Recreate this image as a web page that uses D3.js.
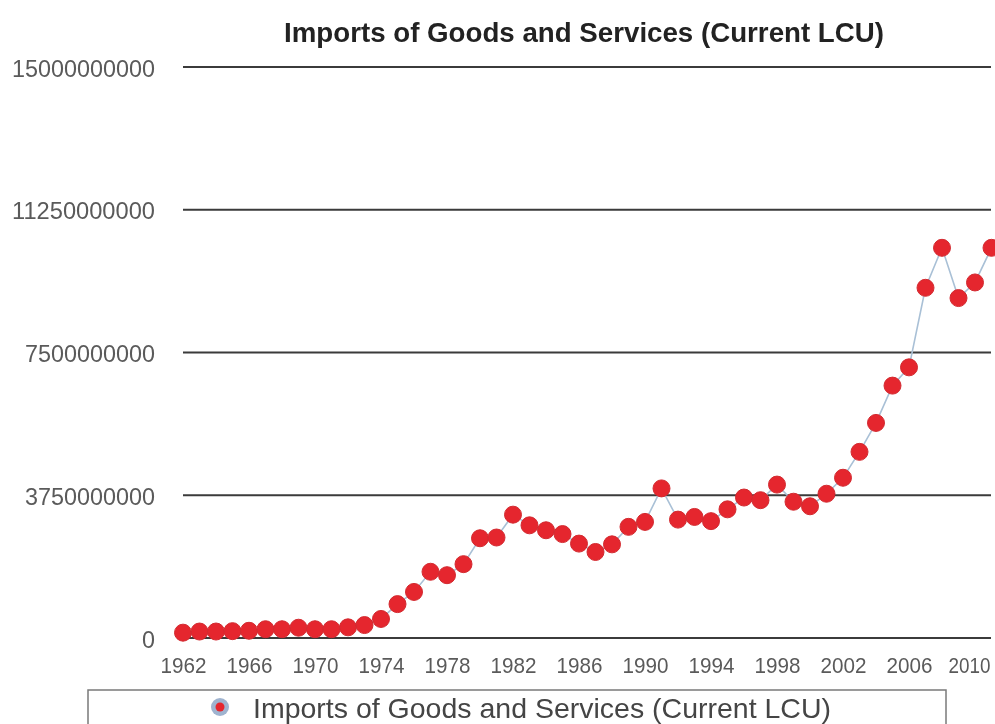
<!DOCTYPE html>
<html>
<head>
<meta charset="utf-8">
<script src="https://cdn.jsdelivr.net/npm/d3@7"></script>
<style>
  html, body { margin: 0; padding: 0; background: #fff; }
  svg { display: block; }
  text { font-family: "Liberation Sans", Arial, Helvetica, sans-serif; }
</style>
</head>
<body>
<svg id="chart" width="995" height="724"></svg>
<script>
// Imports of goods and services, current local currency units, by year
const years = d3.range(1962, 2012);
const imports = [
  0.14e9, 0.17e9, 0.17e9, 0.18e9, 0.19e9, 0.23e9, 0.23e9, 0.27e9, 0.23e9, 0.23e9,
  0.28e9, 0.34e9, 0.50e9, 0.89e9, 1.21e9, 1.74e9, 1.65e9, 1.94e9, 2.62e9, 2.64e9,
  3.24e9, 2.96e9, 2.83e9, 2.73e9, 2.48e9, 2.26e9, 2.46e9, 2.92e9, 3.05e9, 3.93e9,
  3.11e9, 3.18e9, 3.07e9, 3.38e9, 3.69e9, 3.62e9, 4.03e9, 3.58e9, 3.46e9, 3.79e9,
  4.21e9, 4.89e9, 5.65e9, 6.63e9, 7.11e9, 9.20e9, 10.25e9, 8.93e9, 9.34e9, 10.25e9
];
const yTicks = [0, 3750000000, 7500000000, 11250000000, 15000000000];
const xTicks = d3.range(1962, 2012, 4);
const seriesName = "Imports of Goods and Services (Current LCU)";

const data = years.map((y, i) => ({ year: y, value: imports[i] }));

const svg = d3.select("#chart");

// soft rendering of the whole chart
const defs = svg.append("defs");
defs.append("filter").attr("id", "soft")
  .attr("x", "-5%").attr("y", "-5%").attr("width", "110%").attr("height", "110%")
  .append("feGaussianBlur").attr("stdDeviation", 0.55);

const root = svg.append("g").attr("filter", "url(#soft)");

const x = d3.scaleLinear().domain([1962, 2011]).range([183, 991.5]);
const y = d3.scaleLinear().domain([0, 15000000000]).range([638, 67]);

// Title
root.append("text")
  .attr("x", 584).attr("y", 42)
  .attr("text-anchor", "middle")
  .attr("font-size", 27).attr("font-weight", "bold")
  .attr("fill", "#222")
  .attr("textLength", 600).attr("lengthAdjust", "spacingAndGlyphs")
  .text(seriesName);

// Horizontal gridlines
root.append("g").selectAll("line")
  .data(yTicks)
  .join("line")
  .attr("x1", 183).attr("x2", 991)
  .attr("y1", d => y(d)).attr("y2", d => y(d))
  .attr("stroke", "#3a3a3a").attr("stroke-width", 2);

// Y axis labels
const yAxis = d3.axisLeft(y).tickValues(yTicks).tickSize(0).tickPadding(0)
  .tickFormat(d3.format("d"));
const gy = root.append("g").attr("transform", "translate(155,0)").call(yAxis);
gy.select(".domain").remove();
gy.selectAll("text")
  .attr("font-family", "Liberation Sans, Arial, sans-serif")
  .attr("font-size", 24).attr("fill", "#5a5a5a")
  .attr("dy", "0.38em")
  .each(function(d) {
    const n = String(d).length;
    d3.select(this).attr("textLength", n * 13).attr("lengthAdjust", "spacingAndGlyphs");
  });

// X axis labels
const xAxis = d3.axisBottom(x).tickValues(xTicks).tickSize(0).tickPadding(0)
  .tickFormat(d3.format("d"));
const gx = root.append("g").attr("transform", "translate(0,656)").call(xAxis);
gx.select(".domain").remove();
gx.selectAll("text")
  .attr("font-family", "Liberation Sans, Arial, sans-serif")
  .attr("font-size", 22).attr("fill", "#5a5a5a")
  .attr("dy", "0.78em")
  .attr("textLength", 46).attr("lengthAdjust", "spacingAndGlyphs");
// keep the right-most year inside the frame
gx.selectAll(".tick").filter(d => d === 2010).select("text")
  .attr("text-anchor", "end").attr("x", 990 - x(2010)).attr("textLength", 42);

// Connecting line
const line = d3.line().x(d => x(d.year)).y(d => y(d.value));
root.append("path")
  .datum(data)
  .attr("d", line)
  .attr("fill", "none")
  .attr("stroke", "#a9c0d6")
  .attr("stroke-width", 1.6);

// Point markers
root.append("g").selectAll("circle")
  .data(data)
  .join("circle")
  .attr("cx", d => x(d.year))
  .attr("cy", d => y(d.value))
  .attr("r", 8.5)
  .attr("fill", "#e5282d")
  .attr("stroke", "#d22a30")
  .attr("stroke-width", 1);

// Legend
const legend = root.append("g");
legend.append("rect")
  .attr("x", 88).attr("y", 690).attr("width", 858).attr("height", 50)
  .attr("fill", "#fff").attr("stroke", "#7a7a7a").attr("stroke-width", 1.5);
legend.append("circle")
  .attr("cx", 220).attr("cy", 707).attr("r", 9)
  .attr("fill", "#9fb3cf");
legend.append("circle")
  .attr("cx", 220).attr("cy", 707).attr("r", 4.5)
  .attr("fill", "#e5282d");
legend.append("text")
  .attr("x", 253).attr("y", 718)
  .attr("font-size", 28).attr("fill", "#444")
  .attr("textLength", 578).attr("lengthAdjust", "spacingAndGlyphs")
  .text(seriesName);
</script>
</body>
</html>
